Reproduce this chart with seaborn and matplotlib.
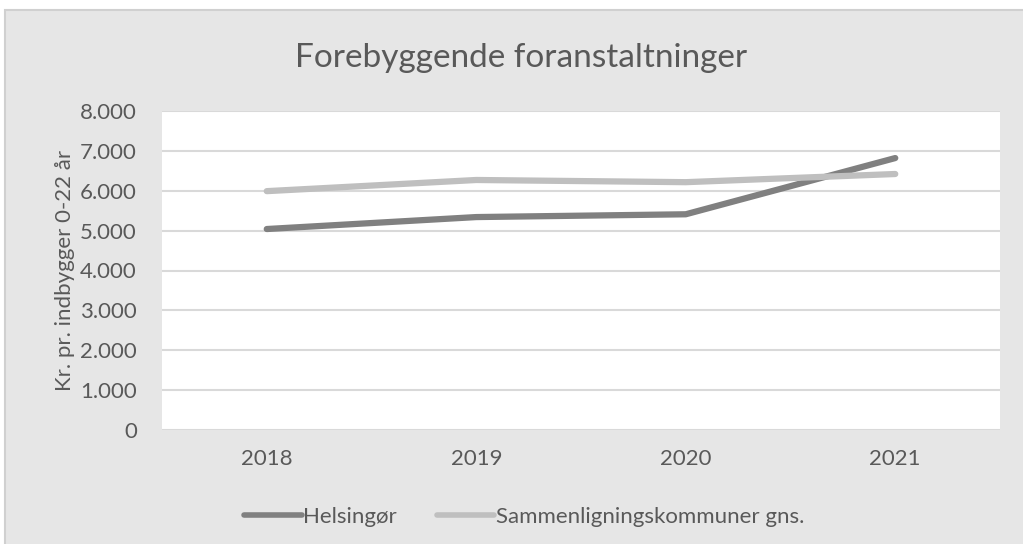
import pandas as pd
import matplotlib.pyplot as plt
import seaborn as sns
from matplotlib.patches import Rectangle

# data
years = ["2018", "2019", "2020", "2021"]
helsingor = [5040, 5340, 5410, 6820]
sammen = [5990, 6270, 6215, 6420]
series_names = ["Helsingør", "Sammenligningskommuner gns."]
y_ticks = [0, 1000, 2000, 3000, 4000, 5000, 6000, 7000, 8000]

df = pd.DataFrame({
    "Year": years * 2,
    "Value": helsingor + sammen,
    "Series": [series_names[0]] * 4 + [series_names[1]] * 4,
})

sns.set_style("white")
plt.rcParams["font.family"] = ["Lato", "DejaVu Sans"]

W, H = 1023, 544
fig = plt.figure(figsize=(W / 100, H / 100), dpi=100, facecolor="white")

# grey chart area box
fig.patches.append(Rectangle((5 / W, -0.01), 1.02 - 5 / W, 1 - 10 / H + 0.01,
                             transform=fig.transFigure, facecolor="#e6e6e6",
                             edgecolor="#d0d0d0", linewidth=1.5, zorder=-10))

ax = fig.add_axes([162 / W, (H - 430) / H, 838 / W, 319 / H])
ax.set_zorder(1)
ax.set_facecolor("white")

palette = {series_names[0]: "#808080", series_names[1]: "#bfbfbf"}
sns.lineplot(data=df, x="Year", y="Value", hue="Series", palette=palette,
             linewidth=4.5, solid_capstyle="round", ax=ax, legend=False, sort=False)

ax.set_xlim(-0.5, 3.5)
ax.set_ylim(0, 8000)
ax.set_yticks(y_ticks)
ax.set_yticklabels([f"{v:,}".replace(",", ".") for v in y_ticks])
ax.grid(axis="y", color="#d9d9d9", linewidth=1.5)
ax.set_axisbelow(True)
for s in ax.spines.values():
    s.set_visible(False)
ax.tick_params(axis="both", length=0, labelsize=16, colors="#595959")
ax.tick_params(axis="y", pad=18)
ax.tick_params(axis="x", pad=14)
ax.set_xlabel("")
ax.set_ylabel("Kr. pr. indbygger 0-22 år", fontsize=16, color="#595959", labelpad=4)

fig.text(521 / W, 1 - 58 / H, "Forebyggende foranstaltninger", ha="center", va="center",
         fontsize=24, color="#595959")

handles = [plt.Line2D([], [], color=palette[n], linewidth=4, solid_capstyle="round")
           for n in series_names]
fig.legend(handles, series_names, loc="center", bbox_to_anchor=(524 / W, 1 - 517 / H),
           ncol=2, frameon=False, fontsize=16, labelcolor="#595959",
           handlelength=2.6, handletextpad=0.05, columnspacing=1.8)

fig.savefig("out.png", dpi=100, facecolor="white")
